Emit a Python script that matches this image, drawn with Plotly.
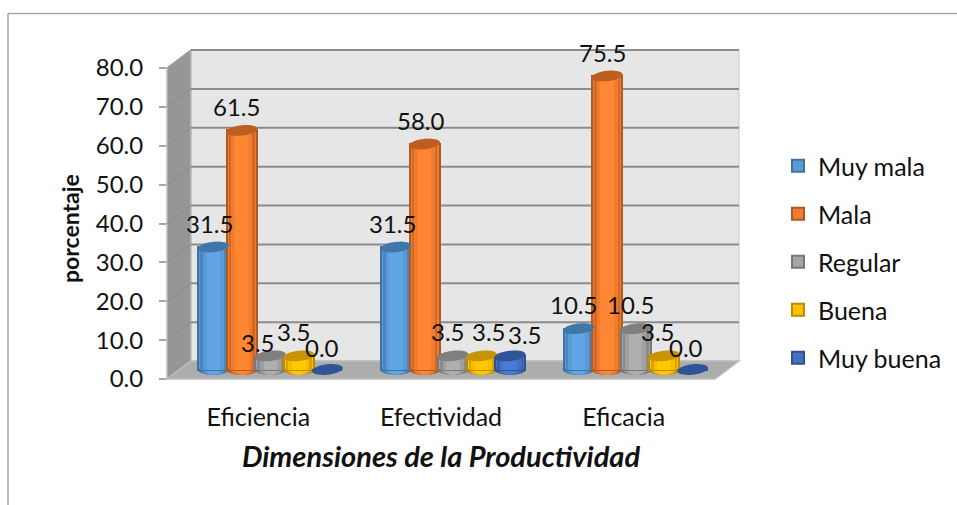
import math
import plotly.graph_objects as go

# ---------- data ----------
categories = ["Eficiencia", "Efectividad", "Eficacia"]
series_names = ["Muy mala", "Mala", "Regular", "Buena", "Muy buena"]
muy_mala = [31.5, 31.5, 10.5]
mala = [61.5, 58.0, 75.5]
regular = [3.5, 3.5, 10.5]
buena = [3.5, 3.5, 3.5]
muy_buena = [0.0, 3.5, 0.0]
y_ticks = [0, 10, 20, 30, 40, 50, 60, 70, 80]
series_values = [muy_mala, mala, regular, buena, muy_buena]

# ---------- geometry / style ----------
W, H = 957, 505
L, R, T, B = 167, 715, 68, 379     # front plane of the 3D box, pixels
DX, DY = 24, 18                    # box depth
FONT = "Lato"
FS_NUM = 24
FS_TXT = 25
FS_CAT = 25
px_per_cat = (R - L) / 3
px_per_unit = (B - T) / 80
bar_px = 30.0
pitch_px = 28.5
depth_shift_px = 12.0
base_value = 9.5 / px_per_unit     # bars stand in the middle of the floor

# edge → centre shades of the cylinders
shades = [
    ["#3E74A6", "#4A86BD", "#569AD8", "#60A5E6"],
    ["#A5531D", "#D06A26", "#F27C2E", "#FF8733"],
    ["#6E6E6E", "#8A8A8A", "#A0A0A0", "#AEAEAE"],
    ["#A67F00", "#D6A400", "#F5BC00", "#FFC800"],
    ["#2C5090", "#3662AE", "#4172C8", "#4A7CD4"],
]
swatch = ["#5B9BD5", "#ED7D31", "#A5A5A5", "#FFC000", "#4472C4"]
swatch_edge = ["#41719C", "#AE5A21", "#787878", "#BC8C00", "#2F528F"]
caps = ["#3F78A8", "#BC5E1F", "#7F7F7F", "#C69400", "#2F5597"]
strip_fracs = [1.0, 0.86, 0.7, 0.45]


def px(xp):
    return (xp - L) / (R - L)


def py(yp):
    return (B - yp) / (B - T)


def poly(points):
    return "M" + "L".join(f"{x:.5f},{y:.5f}" for x, y in points) + "Z"


def ellipse_path(cx, cy, a_px, b_px=5.2, shear=0.1):
    """Slightly tilted ellipse around a data point, sizes in pixels."""
    pts = []
    for k in range(40):
        t = 2 * math.pi * k / 40
        dx = a_px * math.cos(t)
        dy = b_px * math.sin(t) + shear * a_px * math.cos(t)
        pts.append((cx + dx / px_per_cat, cy + dy / px_per_unit))
    return poly(pts)


def offset_of(i):
    return ((i - 2) * pitch_px + depth_shift_px) / px_per_cat


fig = go.Figure()

# bars: a legend-bearing body and narrower, lighter strips that shade it
for i, (name, vals) in enumerate(zip(series_names, series_values)):
    c = offset_of(i)
    for s, frac in enumerate(strip_fracs):
        w = bar_px * frac / px_per_cat
        fig.add_trace(go.Bar(
            x=[0, 1, 2], y=vals, base=base_value, width=w, offset=c - w / 2,
            name=name, legendgroup=name, showlegend=s == 0,
            marker=dict(
                color=swatch[i] if s == 0 else shades[i][s],
                line=dict(color=swatch_edge[i] if s == 0 else shades[i][s], width=2 if s == 0 else 0),
            ),
            hoverinfo="skip" if s else None,
        ))

shapes = []
# chart frame (open on the right and bottom, as cropped in the picture)
frame = dict(type="line", xref="paper", yref="paper", line=dict(color="#A6A6A6", width=1.5))
shapes.append({**frame, "x0": px(8), "x1": px(957), "y0": py(13.5), "y1": py(13.5)})
shapes.append({**frame, "x0": px(8), "x1": px(8), "y0": py(13.5), "y1": py(505)})

# the 3D box
box_line = dict(color="#BDBDBD", width=1.5)
shapes.append(dict(type="path", xref="paper", yref="paper", layer="below", fillcolor="#E6E6E6", line=dict(color="#C8C8C8", width=1),
                   path=poly([(px(L + DX), py(T - DY)), (px(R + DX), py(T - DY)), (px(R + DX), py(B - DY)), (px(L + DX), py(B - DY))])))
shapes.append(dict(type="path", xref="paper", yref="paper", layer="below", fillcolor="#969696", line=box_line,
                   path=poly([(px(L), py(T)), (px(L + DX), py(T - DY)), (px(L + DX), py(B - DY)), (px(L), py(B))])))
for t in y_ticks:
    f = t / 80
    y_front = B - f * (B - T)
    if t:
        shapes.append(dict(type="line", xref="paper", yref="paper", layer="below",
                           x0=px(L + DX), x1=px(R + DX), y0=py(y_front - DY), y1=py(y_front - DY),
                           line=dict(color="#8C8C8C", width=2)))
    shapes.append(dict(type="line", xref="paper", yref="paper", layer="below",
                       x0=px(L), x1=px(L + DX), y0=py(y_front), y1=py(y_front - DY),
                       line=dict(color="#8A8A8A", width=1)))
shapes.append(dict(type="path", xref="paper", yref="paper", layer="below", fillcolor="#ADADAD", line=box_line,
                   path=poly([(px(L), py(B)), (px(L + DX), py(B - DY)), (px(R + DX), py(B - DY)), (px(R), py(B))])))

# cylinder bottoms (under the bars) and tops (over the bars)
for i, vals in enumerate(series_values):
    c = offset_of(i)
    for j, v in enumerate(vals):
        if v <= 0:
            continue
        for s, frac in enumerate(strip_fracs):
            shapes.append(dict(type="path", xref="x", yref="y", layer="below", line_width=0,
                               fillcolor=shades[i][s],
                               path=ellipse_path(j + c, base_value, (bar_px / 2 + 1) * frac, shear=0)))
for i, vals in enumerate(series_values):
    c = offset_of(i)
    for j, v in enumerate(vals):
        shapes.append(dict(type="path", xref="x", yref="y", layer="above", line_width=0,
                           fillcolor=caps[i],
                           path=ellipse_path(j + c, base_value + v, bar_px / 2 + 0.5)))

# value labels: Excel had them placed by hand, so every one has its own nudge
label_nudges = {
    0: [(-4, 24), (-4, 24), (-5, 24)],
    1: [(-5, 24), (-4, 24), (-5, 23)],
    2: [(-12, 13), (-5, 24), (-5, 24)],
    3: [(-5, 24), (7, 24), (-6, 24)],
    4: [(-5, 22), (15, 21), (-7, 22)],
}
annotations = []
for i, vals in enumerate(series_values):
    c = offset_of(i)
    for j, v in enumerate(vals):
        xs, ys = label_nudges[i][j]
        annotations.append(dict(
            x=j + c, y=base_value + v, xref="x", yref="y", text=f"{v:.1f}",
            showarrow=False, xshift=xs, yshift=ys, xanchor="center", yanchor="middle",
            font=dict(family=FONT, size=FS_NUM, color="#111111"),
        ))

# y-axis title sits a little below the axis centre in the original
annotations.append(dict(
    x=px(70), y=py(229), xref="paper", yref="paper", text="porcentaje", textangle=-90,
    showarrow=False, xanchor="center", yanchor="middle",
    font=dict(family=FONT, size=23, color="#111111", weight="bold"),
))

fig.update_layout(
    width=W, height=H, autosize=False,
    margin=dict(l=L, r=W - R, t=T, b=H - B, autoexpand=False),
    paper_bgcolor="white", plot_bgcolor="rgba(0,0,0,0)",
    barmode="overlay", bargap=0,
    shapes=shapes, annotations=annotations,
    showlegend=True,
    legend=dict(
        x=px(778), xanchor="left",
        y=py(143), yanchor="top",
        font=dict(family=FONT, size=FS_TXT, color="#111111"),
        tracegroupgap=12.5, itemclick=False, itemdoubleclick=False,
        bgcolor="rgba(0,0,0,0)",
    ),
    xaxis=dict(
        range=[-0.5, 2.5], tickvals=[0, 1, 2], ticktext=categories, showgrid=False, zeroline=False,
        showline=False, ticks="", ticklabelstandoff=21,
        tickfont=dict(family=FONT, size=FS_CAT, color="#111111"),
        title=dict(text="Dimensiones de la Productividad", standoff=16,
                   font=dict(family=FONT, size=29, color="#111111", weight="bold", style="italic")),
    ),
    yaxis=dict(
        range=[0, 80], tickvals=y_ticks, tickformat=".1f", showgrid=False, zeroline=False,
        showline=False, ticks="outside", ticklen=7, tickcolor="#A6A6A6", tickwidth=1.5,
        ticklabelstandoff=11,
        tickfont=dict(family=FONT, size=FS_NUM, color="#111111"),
    ),
)

fig.write_html("out.html", config={"displayModeBar": False},
               post_script="document.body.style.margin='0';document.documentElement.style.overflow='hidden';")
